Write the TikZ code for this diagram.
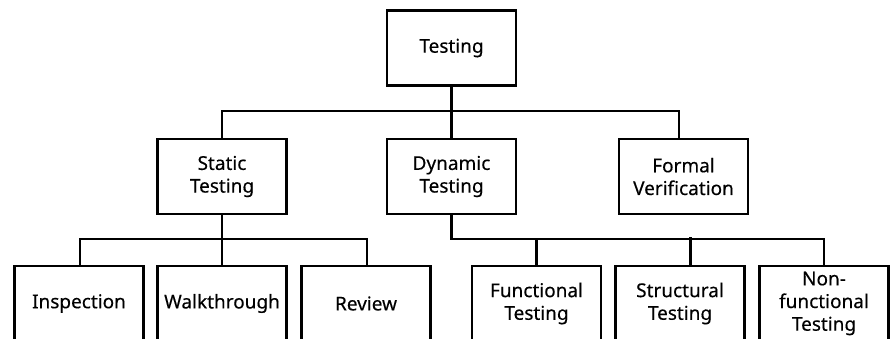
\documentclass[tikz,border=0pt]{standalone}
\usepackage{fontspec}
\setmainfont[FakeBold=0.3]{Noto Sans}
\usetikzlibrary{calc}
\begin{document}
\begin{tikzpicture}[x=1pt,y=-1pt,
  box/.style={draw=black, line width=2.6pt, minimum width=129pt, minimum height=75pt,
    inner sep=0pt, align=center, font=\fontsize{19}{22.7}\selectfont, text=black},
  conn/.style={draw=black, line width=2.6pt}]
\useasboundingbox (0,0) rectangle (890,339);
\node[box] (t)  at (451.5,48) {Testing};
\node[box] (s)  at (222,176.5) {Static\\Testing};
\node[box] (d)  at (451.5,176.5) {Dynamic\\Testing};
\node[box] (f)  at (683.5,176.5) {Formal\\Verification};
\node[box] (i)  at (79,303.5) {Inspection};
\node[box] (w)  at (222,303.5) {Walkthrough};
\node[box] (r)  at (366,303.5) {Review};
\node[box] (fu) at (536.5,303.5) {Functional\\Testing};
\node[box] (st) at (680,303.5) {Structural\\Testing};
\node[box] (nf) at (824,303.5) {Non-\\functional\\Testing};
\coordinate (b1) at (451.5,111);
\coordinate (b2) at (222,239);
\coordinate (b3) at (451.5,239);
% level 1
\draw[conn] (t.south) -- (b1);
\draw[conn] (s.north) |- (b1);
\draw[conn] (d.north) -- (b1);
\draw[conn] ($(f.north)+(-4.5,0)$) |- (b1);
% static
\draw[conn] (s.south) -- (b2);
\draw[conn] ($(i.north)+(1,0)$) |- (b2);
\draw[conn] (w.north) -- (b2);
\draw[conn] ($(r.north)+(1,0)$) |- (b2);
% dynamic
\draw[conn] (d.south) -- (b3) -| (nf.north);
\draw[conn] (fu.north) -- (fu.north |- b3);
\draw[conn] ($(st.north)+(10.7,0)$) -- ++(0,-27.5);
\end{tikzpicture}
\end{document}
